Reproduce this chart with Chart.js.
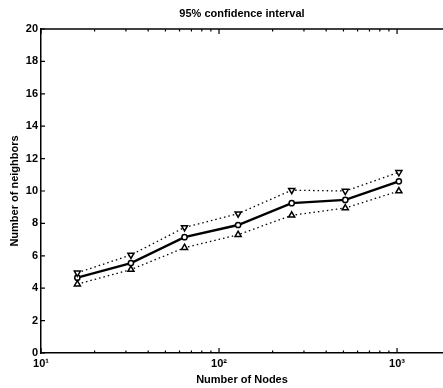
<!DOCTYPE html>
<html>
<head>
<meta charset="utf-8">
<script src="https://cdn.jsdelivr.net/npm/chart.js@4"></script>
<style>
  html, body { margin: 0; padding: 0; background: #fff; }
  canvas { display: block; }
</style>
</head>
<body>
<canvas id="chart" width="443" height="388"></canvas>
<script>
// values
const nodes = [16, 32, 64, 128, 256, 512, 1024];
const meanNeighbors = [4.65, 5.55, 7.15, 7.9, 9.25, 9.45, 10.6];
const upperBound = [4.95, 6.05, 7.75, 8.6, 10.05, 10.0, 11.15];
const lowerBound = [4.25, 5.15, 6.5, 7.3, 8.5, 8.95, 10.0];

const xTicks = [10, 100, 1000];
const xTickLabels = ['10\u00b9', '10\u00b2', '10\u00b3'];
const xMinorTicks = [20, 30, 40, 50, 60, 70, 80, 90, 200, 300, 400, 500, 600, 700, 800, 900];

const titleText = '95% confidence interval';
const font = 'Liberation Sans, Arial, Helvetica, sans-serif';

const pts = ys => nodes.map((n, i) => ({ x: n, y: ys[i] }));

// matlab style: ticks pointing inward, top frame line, title over the plot area
const frame = {
    id: 'frame',
    afterDraw(chart) {
        const c = chart.ctx;
        const a = chart.chartArea;
        const xs = chart.scales.x, ys = chart.scales.y;
        c.save();
        c.strokeStyle = '#000';
        c.lineWidth = 1.5;
        c.beginPath();
        c.moveTo(a.left, a.top);
        c.lineTo(a.right, a.top);
        c.stroke();
        c.lineWidth = 1.2;
        c.beginPath();
        ys.ticks.forEach(t => {
            const y = ys.getPixelForValue(t.value);
            c.moveTo(a.left, y);
            c.lineTo(a.left + 4, y);
        });
        xTicks.forEach(v => {
            const x = xs.getPixelForValue(v);
            c.moveTo(x, a.bottom);
            c.lineTo(x, a.bottom - 5);
            c.moveTo(x, a.top);
            c.lineTo(x, a.top + 5);
        });
        xMinorTicks.forEach(v => {
            const x = xs.getPixelForValue(v);
            c.moveTo(x, a.bottom);
            c.lineTo(x, a.bottom - 2.5);
            c.moveTo(x, a.top);
            c.lineTo(x, a.top + 2.5);
        });
        c.stroke();
        c.fillStyle = '#000';
        c.font = 'bold 11px ' + font;
        c.textAlign = 'center';
        c.textBaseline = 'middle';
        c.fillText(titleText, (a.left + a.right) / 2, 14);
        c.restore();
    }
};

new Chart(document.getElementById('chart'), {
    type: 'line',
    data: {
        datasets: [{
            label: 'upper',
            data: pts(upperBound),
            borderColor: '#000',
            borderWidth: 1.3,
            borderDash: [1.5, 3],
            pointStyle: 'triangle',
            pointRotation: 180,
            pointRadius: 3.5,
            pointBorderWidth: 1.5,
            pointBackgroundColor: '#fff',
            pointBorderColor: '#000'
        }, {
            label: 'lower',
            data: pts(lowerBound),
            borderColor: '#000',
            borderWidth: 1.3,
            borderDash: [1.5, 3],
            pointStyle: 'triangle',
            pointRadius: 3.5,
            pointBorderWidth: 1.5,
            pointBackgroundColor: '#fff',
            pointBorderColor: '#000'
        }, {
            label: 'mean',
            data: pts(meanNeighbors),
            borderColor: '#000',
            borderWidth: 2.4,
            pointStyle: 'circle',
            pointRadius: 2.6,
            pointBorderWidth: 1.5,
            pointBackgroundColor: '#fff',
            pointBorderColor: '#000'
        }]
    },
    options: {
        responsive: false,
        animation: false,
        layout: { autoPadding: false, padding: { top: 29, right: 0, left: 0, bottom: 0 } },
        plugins: {
            legend: { display: false },
            tooltip: { enabled: false }
        },
        scales: {
            x: {
                type: 'logarithmic',
                min: 10,
                max: 1812,
                afterBuildTicks: s => { s.ticks = xTicks.map(v => ({ value: v })); },
                afterFit: s => { s.height = 35; s.paddingRight = 0; s.paddingLeft = 0; },
                grid: { display: false, drawTicks: false },
                border: { display: true, color: '#000', width: 1.5 },
                ticks: {
                    autoSkip: false,
                    maxRotation: 0,
                    padding: 4,
                    color: '#000',
                    font: { family: font, size: 11, weight: 'bold' },
                    callback: (v, i) => xTickLabels[i]
                },
                title: {
                    display: true,
                    text: 'Number of Nodes',
                    color: '#000',
                    font: { family: font, size: 11, weight: 'bold' },
                    padding: { top: 0, bottom: 1 }
                }
            },
            y: {
                min: 0,
                max: 20,
                afterFit: s => { s.width = 41; },
                grid: { display: false, drawTicks: false },
                border: { display: true, color: '#000', width: 1.5 },
                ticks: {
                    stepSize: 2,
                    padding: 3,
                    color: '#000',
                    font: { family: font, size: 11, weight: 'bold' }
                },
                title: {
                    display: true,
                    text: 'Number of neighbors',
                    color: '#000',
                    font: { family: font, size: 11, weight: 'bold' },
                    padding: { top: 8, bottom: 0 }
                }
            }
        }
    },
    plugins: [frame]
});
</script>
</body>
</html>
